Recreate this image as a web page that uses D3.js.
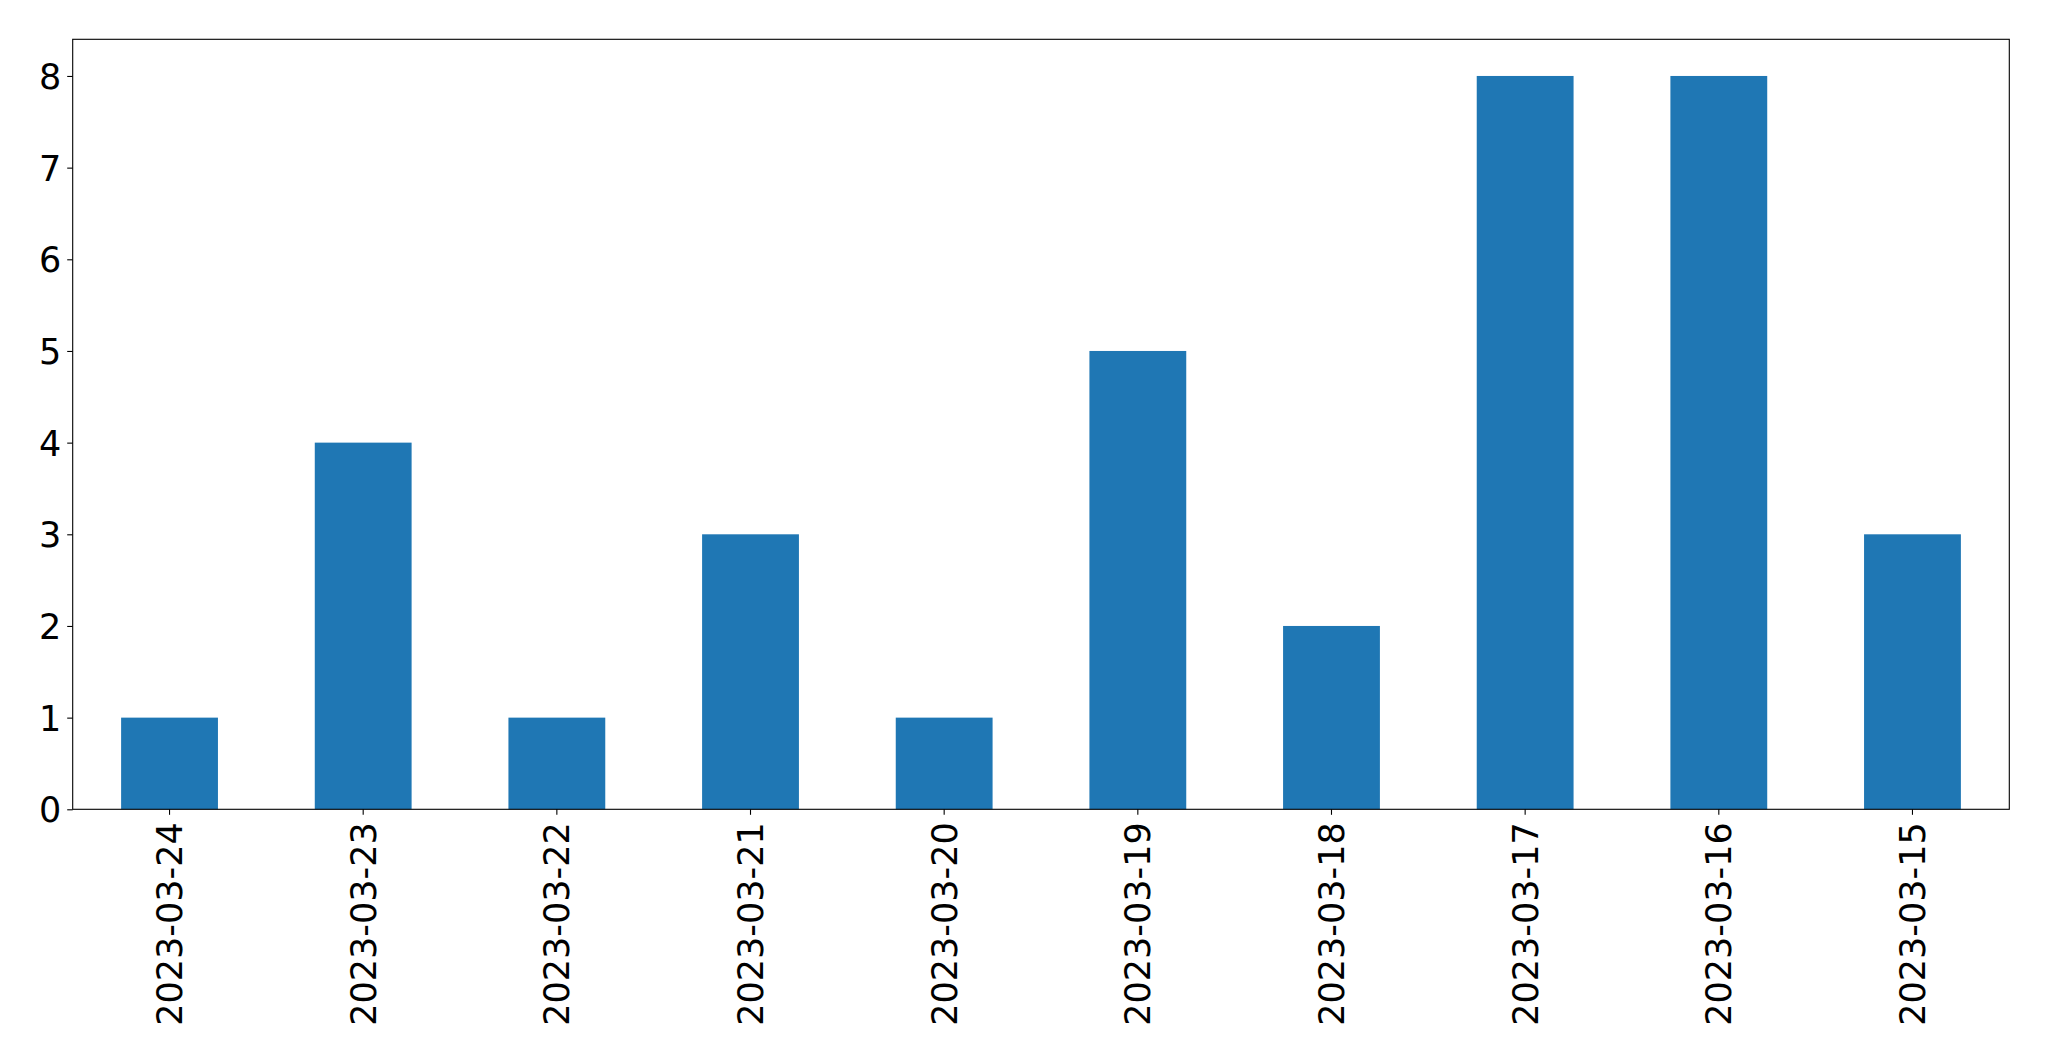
<!DOCTYPE html>
<html><head><meta charset="utf-8">
<script src="https://cdn.jsdelivr.net/npm/d3@7"></script>
<style>body{margin:0;background:#fff;} svg{display:block;}</style>
</head><body>
<script>
const categories = ["2023-03-24","2023-03-23","2023-03-22","2023-03-21","2023-03-20","2023-03-19","2023-03-18","2023-03-17","2023-03-16","2023-03-15"];
const values = [1,4,1,3,1,5,2,8,8,3];
const yTicks = [0,1,2,3,4,5,6,7,8];

const W = 2049, H = 1061;
const m = {left:72.7, right:W-2009.3, top:39.3, bottom:H-809.3};
const iw = W - m.left - m.right, ih = H - m.top - m.bottom;
const svg = d3.select("body").append("svg").attr("width",W).attr("height",H);
const g = svg.append("g").attr("transform",`translate(${m.left},${m.top})`);

const x = d3.scaleBand().domain(categories).range([0,iw]).paddingInner(0.5).paddingOuter(0.25);
const y = d3.scaleLinear().domain([0,8.4]).range([ih,0]);

g.selectAll("rect.bar").data(values).join("rect").attr("class","bar")
  .attr("x",(d,i)=>x(categories[i])).attr("width",x.bandwidth())
  .attr("y",d=>y(d)).attr("height",d=>ih-y(d)).attr("fill","#1f77b4");

const font = "'DejaVu Sans', sans-serif";
const fs = "35px";
const ya = g.append("g").call(d3.axisLeft(y).tickValues(yTicks).tickFormat(d3.format("d")).tickSize(5.5).tickPadding(6));
ya.select(".domain").remove();
ya.selectAll("line").attr("stroke","#000").attr("stroke-width",1.1);
ya.selectAll("text").attr("font-family",font).attr("font-size",fs).attr("fill","#000").attr("dy","0.36em");

const xa = g.append("g").attr("transform",`translate(0,${ih})`).call(d3.axisBottom(x).tickSize(5.5).tickPadding(0));
xa.select(".domain").remove();
xa.selectAll("line").attr("stroke","#000").attr("stroke-width",1.1);
xa.selectAll("text").attr("font-family",font).attr("font-size",fs).attr("fill","#000")
  .attr("text-anchor","end").attr("transform","rotate(-90)")
  .attr("x",-13).attr("y",0).attr("dy","0.36em");

g.append("rect").attr("x",0).attr("y",0).attr("width",iw).attr("height",ih)
  .attr("fill","none").attr("stroke","#000").attr("stroke-width",1.1);
</script>
</body></html>
